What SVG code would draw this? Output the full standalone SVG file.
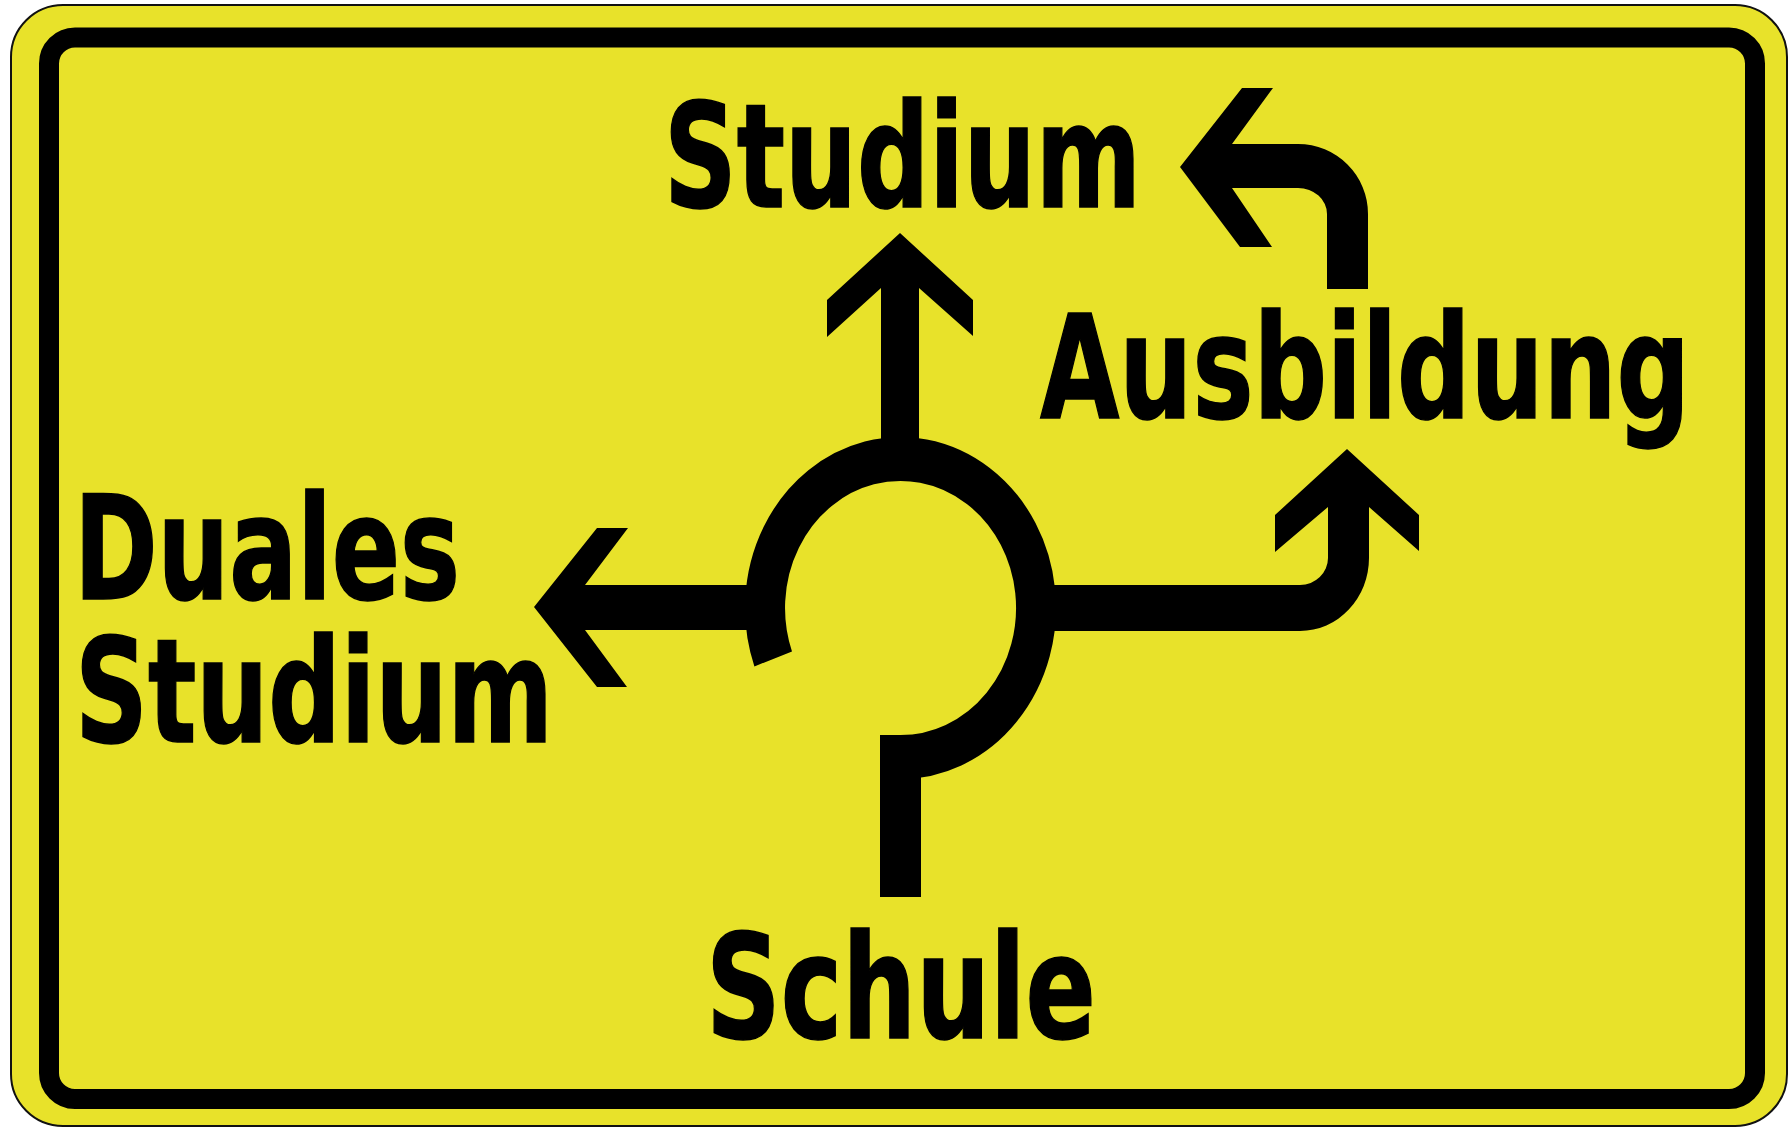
<svg xmlns="http://www.w3.org/2000/svg" width="1789" height="1129" viewBox="0 0 1789 1129">
<style>
.lbl{font-family:"DejaVu Sans Condensed","DejaVu Sans","Liberation Sans",sans-serif;font-stretch:condensed;font-weight:bold;font-size:144px;fill:#000;stroke:#000;stroke-width:1.5}
.arrow{fill:#000;stroke:none}
.ring{fill:none;stroke:#000;stroke-width:40}
</style>
<rect width="1789" height="1129" fill="#ffffff"/>
<g id="sign">
<rect x="11" y="5" width="1776" height="1121" rx="52" fill="#e8e22a" stroke="#111" stroke-width="2"/>
<rect x="49" y="37.5" width="1706" height="1061.5" rx="26" fill="none" stroke="#000" stroke-width="20"/>
</g>
<g id="node-roundabout">
<path class="ring" transform="translate(900.5 608) scale(1 1.1)" d="M 0 135.5 A 135.5 135.5 0 1 0 -127.3 46.3"/>
</g>
<g id="connectors">
<path id="to-studium" class="arrow" d="M 900 233 L 973 300 L 973 336 L 919 288 L 919 460 L 881 460 L 881 288 L 827 337 L 827 300 Z"/>
<path id="to-duales" class="arrow" d="M 534 607 L 597 528 L 628 528 L 585 585 L 760 585 L 760 630 L 585 630 L 627 687 L 597 687 Z"/>
<path id="to-ausbildung" class="arrow" d="M 1035 585 L 1300 585 A 28 27 0 0 0 1328 558 L 1328 507 L 1275 552 L 1275 515 L 1347 449 L 1419 515 L 1419 551 L 1369 507 L 1369 558 A 69 73 0 0 1 1300 631 L 1035 631 Z"/>
<path id="from-schule" class="arrow" d="M 880 735 L 921 735 L 921 897 L 880 897 Z"/>
<path id="turn-studium" class="arrow" d="M 1180 167 L 1242 88 L 1273 88 L 1232 144 L 1298 144 A 70 70 0 0 1 1368 214 L 1368 289 L 1327 289 L 1327 214 A 29 26 0 0 0 1298 188 L 1232 188 L 1272 247 L 1240 247 Z"/>
</g>
<g id="node-studium">
<text class="lbl" x="664" y="207" textLength="477" lengthAdjust="spacingAndGlyphs">Studium</text>
</g>
<g id="node-ausbildung">
<text class="lbl" x="1040" y="418" textLength="650" lengthAdjust="spacingAndGlyphs">Ausbildung</text>
</g>
<g id="node-duales">
<text class="lbl" x="74" y="599" textLength="386" lengthAdjust="spacingAndGlyphs">Duales</text>
<text class="lbl" x="75" y="742" textLength="478" lengthAdjust="spacingAndGlyphs">Studium</text>
</g>
<g id="node-schule">
<text class="lbl" x="706" y="1038" textLength="390" lengthAdjust="spacingAndGlyphs">Schule</text>
</g>
</svg>
